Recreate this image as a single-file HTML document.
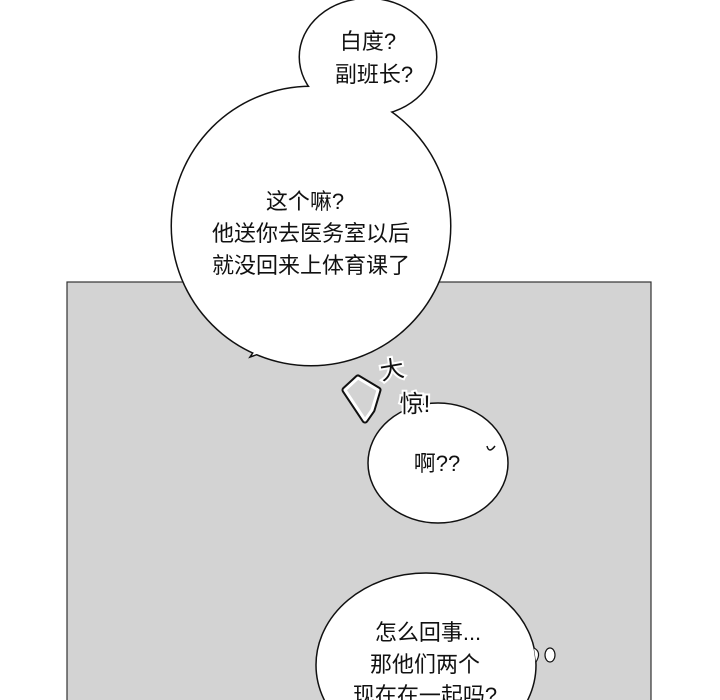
<!DOCTYPE html><html><head><meta charset="utf-8"><style>html,body{margin:0;background:#fff;overflow:hidden;width:720px;height:700px}svg{display:block;overflow:hidden}text{font-family:"Liberation Sans","Noto Sans CJK SC",sans-serif;font-size:22px;fill:#111;text-anchor:middle}</style></head><body>
<svg width="720" height="700" viewBox="0 0 720 700">
<defs><clipPath id="c"><rect x="0" y="0" width="720" height="700"/></clipPath></defs>
<g clip-path="url(#c)">
<rect x="67" y="282" width="584" height="430" fill="#d3d3d3" stroke="#333" stroke-width="1.2"/>
<g stroke="#111" stroke-width="3" fill="#fff">
<ellipse cx="368" cy="57" rx="68" ry="58"/>
<ellipse cx="311" cy="226" rx="139" ry="139"/>
<path d="M272 325 L250 357 L285 345 Z" stroke-width="1.5"/>
</g>
<g fill="#fff">
<ellipse cx="368" cy="57" rx="68" ry="58"/>
<ellipse cx="311" cy="226" rx="139" ry="139"/>
<path d="M272 328 L253 355 L285 344 Z"/>
</g>
<text x="368" y="49">白度?</text><text x="374" y="82">副班长?</text>
<text x="305" y="209">这个嘛?</text><text x="311" y="241">他送你去医务室以后</text><text x="311" y="273">就没回来上体育课了</text>
<ellipse cx="438" cy="463" rx="70" ry="60" fill="#fff" stroke="#111" stroke-width="1.5"/>
<text x="437" y="471">啊??</text>
<path d="M487 446 q2 8 8 0" fill="none" stroke="#111" stroke-width="1.5"/>
<path d="M345 390 L358 378 L378 390 L372 410 L365 420 Z" fill="#fff" stroke="#111" stroke-width="7" stroke-linejoin="round"/>
<path d="M345 390 L358 378 L378 390 L372 410 L365 420 Z" fill="#d3d3d3" stroke="#fff" stroke-width="3" stroke-linejoin="round"/>
<text x="392" y="378" style="font-size:24px;stroke:#fff;stroke-width:4;paint-order:stroke" transform="rotate(-10 392 370)">大</text>
<text x="415" y="412" style="font-size:24px;stroke:#fff;stroke-width:4;paint-order:stroke">惊!</text>
<ellipse cx="426" cy="665" rx="110" ry="92" fill="#fff" stroke="#111" stroke-width="1.5"/>
<text x="428" y="640">怎么回事...</text><text x="425" y="672">那他们两个</text><text x="425" y="703">现在在一起吗?</text>
<ellipse cx="550" cy="655" rx="5" ry="7" fill="#fff" stroke="#111" stroke-width="1.2"/>
<path d="M534 648 q8 4 2 14" fill="#fff" stroke="#111" stroke-width="1.2"/>
</g>
</svg></body></html>
